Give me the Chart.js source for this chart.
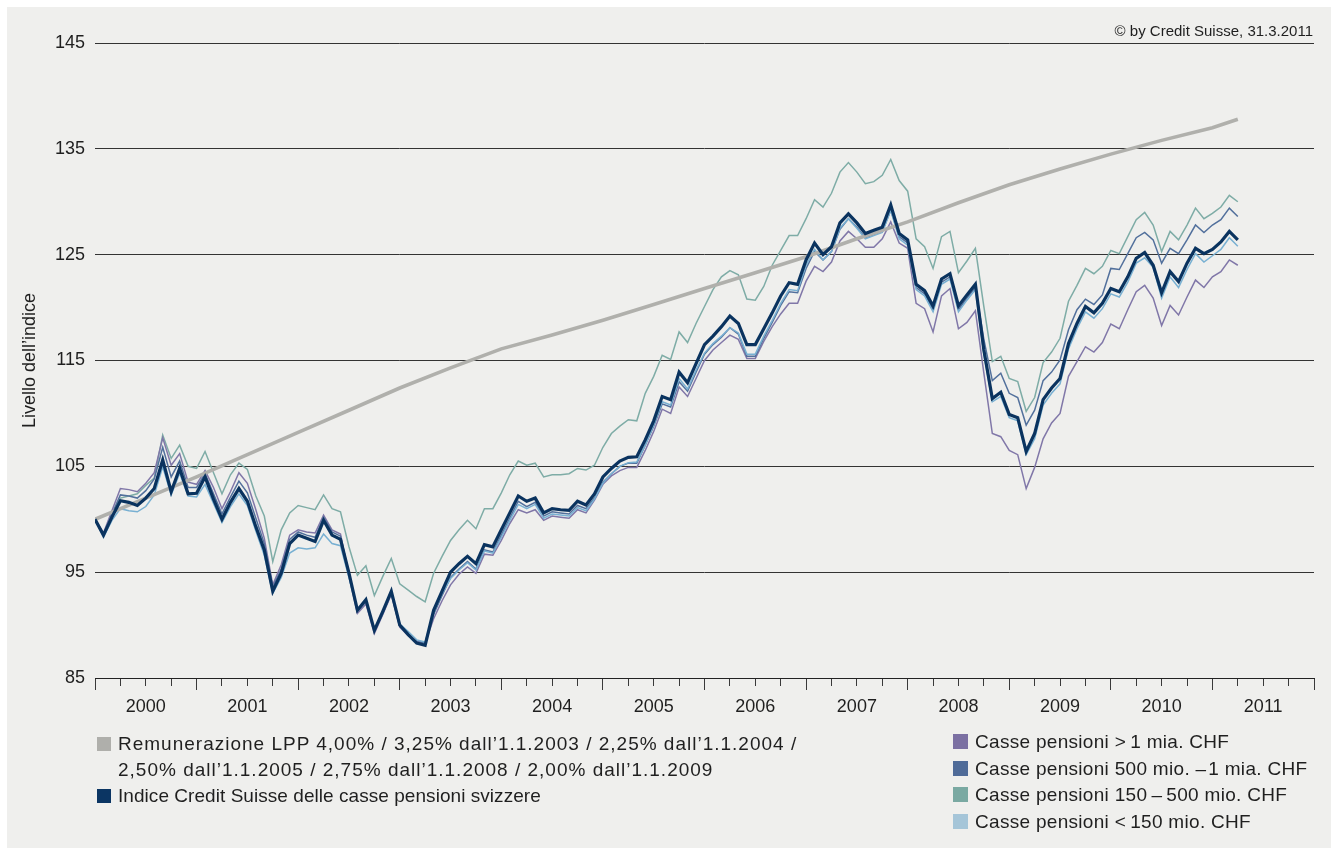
<!DOCTYPE html>
<html lang="it">
<head>
<meta charset="utf-8">
<title>Indice Credit Suisse delle casse pensioni svizzere</title>
<script src="https://cdn.jsdelivr.net/npm/chart.js@4.4.1/dist/chart.umd.min.js"></script>
<style>
  html, body { margin: 0; padding: 0; background: #ffffff; }
  body { width: 1331px; height: 848px; position: relative; overflow: hidden;
         font-family: "Liberation Sans", Arial, sans-serif; color: #1f1f1f; }
  #panel { position: absolute; left: 7px; top: 7px; right: 0; bottom: 0; background: #efefed; }
  #chart { position: absolute; left: 0; top: 0; }
  .note { position: absolute; right: 18px; top: 21px; font-size: 15px; line-height: 20px; }
  .legend { position: absolute; font-size: 19px; line-height: 26px; white-space: nowrap; letter-spacing: 0.3px; }
  .legend .row { position: relative; padding-left: 21px; }
  .legend .sw { position: absolute; left: 0; top: 6px; width: 14px; height: 14px; }
  #legend-left .row:nth-child(1), #legend-left .row:nth-child(2) { letter-spacing: 1px; }
  #legend-left .row:nth-child(3) { letter-spacing: 0.05px; }
  #legend-right .sw { width: 15px; height: 15px; top: 5px; }
  #legend-right .row { padding-left: 22px; }
</style>
</head>
<body>
<div id="panel"></div>
<canvas id="chart" width="1331" height="848"></canvas>
<div class="note">© by Credit Suisse, 31.3.2011</div>
<div class="legend" id="legend-left" style="left:97px; top:731px;"></div>
<div class="legend" id="legend-right" style="left:953px; top:729px; line-height:26.6px;"></div>
<script>
// monthly values, Dec 1999 (month 0) to Mar 2011 (month 135)
var indexCS = [
  100.0, 98.5, 100.2, 101.75, 101.6, 101.3, 102.0, 102.9, 105.6, 102.6, 104.8, 102.4,
  102.45, 104.0, 101.9, 100.0, 101.6, 102.9, 101.7, 99.3, 97.1, 93.2, 94.9, 97.7,
  98.5, 98.2, 97.9, 99.9, 98.5, 98.1, 94.9, 91.4, 92.4, 89.5, 91.3, 93.2,
  90.0, 89.1, 88.3, 88.1, 91.4, 93.2, 95.0, 95.8, 96.5, 95.8, 97.6, 97.4,
  99.0, 100.6, 102.2, 101.7, 102.0, 100.6, 101.0, 100.9, 100.85, 101.7, 101.35, 102.4,
  104.0, 104.8, 105.5, 105.85, 105.9, 107.5, 109.3, 111.6, 111.3, 113.9, 112.9, 114.7,
  116.5, 117.3, 118.2, 119.2, 118.5, 116.5, 116.5, 118.0, 119.5, 121.1, 122.35, 122.2,
  124.5, 126.1, 125.0, 125.75, 128.0, 128.85, 128.0, 127.0, 127.3, 127.6, 129.7, 127.0,
  126.4, 122.2, 121.6, 120.15, 122.7, 123.2, 120.15, 121.2, 122.2, 116.0, 111.4, 112.0,
  109.9, 109.6, 106.4, 108.1, 111.3, 112.4, 113.3, 116.6, 118.5, 120.1, 119.5, 120.4,
  121.8, 121.5, 122.9, 124.65, 125.2, 124.0, 121.4, 123.4, 122.45, 124.2, 125.6, 125.1,
  125.5, 126.2, 127.2, 126.4
];
var over1bn = [
  100.0, 98.7, 100.8, 102.9, 102.8, 102.6, 103.4, 104.4, 107.7, 105.1, 106.2, 103.5,
  103.3, 104.6, 103.0, 101.0, 102.6, 104.4, 103.4, 100.9, 98.2, 93.8, 95.7, 98.5,
  99.0, 98.8, 98.7, 100.4, 99.0, 98.6, 94.6, 91.1, 92.0, 89.2, 91.0, 92.9,
  89.8, 89.0, 88.5, 88.3, 90.6, 92.3, 93.8, 94.8, 95.5, 94.9, 96.7, 96.6,
  98.0, 99.6, 100.9, 100.6, 100.9, 99.9, 100.3, 100.2, 100.1, 100.9, 100.6, 101.8,
  103.3, 104.1, 104.6, 104.9, 104.9, 106.5, 108.3, 110.4, 110.0, 112.5, 111.6, 113.3,
  115.0, 116.0, 116.7, 117.4, 117.0, 115.2, 115.2, 116.8, 118.2, 119.4, 120.4, 120.4,
  122.5, 123.9, 123.4, 124.3, 126.3, 127.2, 126.5, 125.7, 125.7, 126.5, 128.1, 126.1,
  125.6, 120.4, 119.9, 117.7, 121.1, 121.8, 118.0, 118.6, 119.7, 113.8, 108.1, 107.8,
  106.5, 106.1, 102.9, 104.9, 107.6, 109.1, 110.0, 113.5, 114.9, 116.3, 115.8, 116.7,
  118.45, 118.0, 119.8, 121.5, 122.1, 120.9, 118.3, 120.2, 119.3, 121.0, 122.6, 121.9,
  122.9, 123.4, 124.5, 124.0
];
var from500mTo1bn = [
  100.0, 98.6, 100.5, 102.3, 102.2, 102.0, 102.7, 103.8, 106.8, 104.0, 105.5, 103.0,
  103.0, 104.3, 102.4, 100.5, 102.1, 103.6, 102.5, 100.1, 97.7, 93.6, 95.3, 98.1,
  98.8, 98.5, 98.3, 100.2, 98.8, 98.4, 94.9, 91.3, 92.2, 89.4, 91.1, 93.0,
  89.9, 89.1, 88.4, 88.3, 91.0, 92.8, 94.5, 95.3, 96.0, 95.3, 97.1, 96.9,
  98.5, 100.1, 101.7, 101.2, 101.6, 100.3, 100.7, 100.6, 100.5, 101.3, 101.0, 102.0,
  103.5, 104.3, 105.0, 105.3, 105.3, 107.0, 108.8, 110.9, 110.6, 113.0, 112.1, 113.9,
  115.6, 116.5, 117.2, 118.1, 117.5, 115.4, 115.4, 117.1, 118.6, 120.2, 121.5, 121.4,
  123.7, 125.3, 124.5, 125.3, 127.4, 128.4, 127.6, 126.6, 126.9, 127.2, 129.2, 126.7,
  126.1, 121.9, 121.3, 119.8, 122.4, 122.9, 119.8, 120.9, 121.9, 117.0, 113.1, 113.8,
  111.9, 111.5, 108.9, 110.3, 113.1, 113.9, 115.05, 117.9, 119.8, 120.8, 120.3, 121.2,
  123.7, 123.6, 125.1, 126.6, 127.1, 126.4, 124.2, 125.6, 125.1, 126.4, 127.8, 127.1,
  127.8, 128.3, 129.4, 128.6
];
var from150mTo500m = [
  100.0, 98.6, 100.5, 102.0, 102.2, 102.4, 103.2, 103.9, 107.95, 105.75, 107.0, 105.0,
  104.8, 106.4, 104.4, 102.4, 104.2, 105.3, 104.7, 102.2, 100.3, 96.0, 99.0, 100.6,
  101.3, 101.1, 100.9, 102.3, 101.0, 100.7, 97.4, 94.7, 95.6, 92.8, 94.6, 96.3,
  93.9, 93.3, 92.7, 92.2, 94.9, 96.5, 98.0, 99.0, 99.9, 99.1, 101.0, 101.0,
  102.5, 104.2, 105.5, 105.1, 105.3, 104.0, 104.2, 104.2, 104.3, 104.8, 104.65, 105.1,
  106.8, 108.1, 108.8, 109.4, 109.3, 111.9, 113.5, 115.5, 115.1, 117.7, 116.7, 118.5,
  120.1, 121.7, 122.9, 123.5, 123.1, 120.8, 120.7, 122.0, 124.0, 125.4, 126.8, 126.8,
  128.4, 130.2, 129.5, 130.8, 132.8, 133.7, 132.8, 131.7, 131.9, 132.5, 134.0, 132.0,
  131.0, 126.5, 125.75, 123.7, 126.7, 127.2, 123.3, 124.4, 125.6, 120.1, 114.9, 115.4,
  113.3, 113.0, 110.2, 111.5, 114.8, 115.8, 117.1, 120.6, 122.1, 123.7, 123.2, 123.9,
  125.4, 125.1, 126.7, 128.3, 129.0, 127.8, 125.3, 127.2, 126.4, 127.8, 129.4, 128.4,
  128.9, 129.5, 130.6, 130.0
];
var under150m = [
  100.0, 98.3, 99.9, 101.0, 100.8, 100.7, 101.2, 102.3, 104.95, 102.3, 104.35, 102.2,
  102.1, 103.3, 101.5, 99.7, 101.2, 102.4, 101.3, 98.9, 96.6, 93.0, 94.5, 96.8,
  97.3, 97.2, 97.3, 98.6, 97.7, 97.5, 94.5, 91.4, 92.3, 89.5, 91.3, 93.1,
  90.1, 89.4, 88.6, 88.4, 91.2, 93.0, 94.4, 95.2, 95.9, 95.2, 97.0, 96.8,
  98.3, 99.9, 101.4, 101.0, 101.4, 100.1, 100.5, 100.4, 100.3, 101.1, 100.8, 101.9,
  103.4, 104.3, 105.0, 105.35, 105.4, 107.0, 108.9, 111.1, 110.8, 113.3, 112.3, 114.1,
  115.7, 116.6, 117.3, 118.1, 117.6, 115.6, 115.6, 117.3, 118.8, 120.4, 121.7, 121.6,
  124.0, 125.5, 124.5, 125.3, 127.5, 128.4, 127.5, 126.5, 126.8, 127.1, 129.2, 126.5,
  125.9, 121.7, 121.1, 119.6, 122.2, 122.7, 119.6, 120.7, 121.7, 115.6, 111.1, 111.6,
  109.6, 109.3, 106.1, 107.6, 110.8, 111.9, 112.8, 116.1, 118.0, 119.6, 119.0, 119.9,
  121.3, 121.0, 122.4, 124.2, 124.7, 123.8, 120.9, 122.9, 121.9, 123.6, 125.1, 124.3,
  124.9, 125.5, 126.6, 125.8
];
// BVG/LPP minimum interest line, read every six months
var lppMonths = [0, 6, 12, 18, 24, 30, 36, 42, 48, 54, 60, 66, 72, 78, 84, 90, 96, 102, 108, 114, 120, 126, 132, 135];
var lppValues = [100.0, 102.0, 104.0, 106.1, 108.2, 110.3, 112.4, 114.3, 116.1, 117.4, 118.8, 120.3,
  121.8, 123.3, 124.8, 126.5, 128.1, 129.9, 131.6, 133.1, 134.5, 135.8, 137.0, 137.8];

var yearLabels = ["2000", "2001", "2002", "2003", "2004", "2005", "2006", "2007", "2008", "2009", "2010", "2011"];
var yTicks = [85, 95, 105, 115, 125, 135, 145];

var legendLeft = [
  { color: "#afafab", lines: ["Remunerazione LPP 4,00% / 3,25% dall\u20191.1.2003 / 2,25% dall\u20191.1.2004 /",
                              "2,50% dall\u20191.1.2005 / 2,75% dall\u20191.1.2008 / 2,00% dall\u20191.1.2009"] },
  { color: "#0b3563", lines: ["Indice Credit Suisse delle casse pensioni svizzere"] }
];
var legendRight = [
  { color: "#7b70a2", lines: ["Casse pensioni >\u20091 mia. CHF"] },
  { color: "#4f6b98", lines: ["Casse pensioni 500 mio. \u2013\u200a1 mia. CHF"] },
  { color: "#7aa9a2", lines: ["Casse pensioni 150\u2009\u2013\u2009500 mio. CHF"] },
  { color: "#a5c5d8", lines: ["Casse pensioni <\u2009150 mio. CHF"] }
];

(function () {
  "use strict";

  function toPoints(values) {
    return values.map(function (v, i) { return { x: i, y: v }; });
  }

  function lppPoints() {
    return lppMonths.map(function (m, i) { return { x: m, y: lppValues[i] }; });
  }

  function fillLegend(el, items) {
    items.forEach(function (item) {
      item.lines.forEach(function (line, k) {
        var row = document.createElement("div");
        row.className = "row";
        if (k === 0) {
          var sw = document.createElement("span");
          sw.className = "sw";
          sw.style.background = item.color;
          row.appendChild(sw);
        }
        row.appendChild(document.createTextNode(line));
        el.appendChild(row);
      });
    });
  }

  fillLegend(document.getElementById("legend-left"), legendLeft);
  fillLegend(document.getElementById("legend-right"), legendRight);

  function line(label, data, color, width) {
    return {
      label: label,
      data: data,
      borderColor: color,
      borderWidth: width,
      pointRadius: 0,
      tension: 0,
      fill: false,
      borderJoinStyle: "miter"
    };
  }

  // first dataset is painted last, so the index sits on top
  var datasets = [
    line("Indice Credit Suisse", toPoints(indexCS), "#0a335f", 3.2),
    line("Remunerazione LPP", lppPoints(), "#b0b0ac", 3.6),
    line("< 150 mio.", toPoints(under150m), "#78b0d2", 1.5),
    line("500 mio. - 1 mia.", toPoints(from500mTo1bn), "#52709c", 1.5),
    line("> 1 mia.", toPoints(over1bn), "#8077a8", 1.5),
    line("150 - 500 mio.", toPoints(from150mTo500m), "#7eaca6", 1.5)
  ];

  Chart.defaults.font.family = "'Liberation Sans', Arial, sans-serif";
  Chart.defaults.color = "#1f1f1f";

  new Chart(document.getElementById("chart"), {
    type: "line",
    data: { datasets: datasets },
    options: {
      responsive: false,
      animation: false,
      events: [],
      layout: { padding: { top: 43, right: 17, bottom: 0, left: 0 } },
      plugins: { legend: { display: false }, tooltip: { enabled: false } },
      scales: {
        x: {
          type: "linear",
          min: 0,
          max: 144,
          afterFit: function (scale) { scale.height = 170; },
          afterBuildTicks: function (scale) {
            var ticks = [];
            for (var m = 0; m <= 144; m += 3) ticks.push({ value: m });
            scale.ticks = ticks;
          },
          ticks: {
            autoSkip: false,
            maxRotation: 0,
            padding: 6,
            font: { size: 18 },
            color: "#1f1f1f",
            callback: function (value) {
              return value % 12 === 6 ? yearLabels[(value - 6) / 12] : "";
            }
          },
          grid: {
            drawOnChartArea: false,
            tickLength: 12,
            tickColor: "#3a3a3a",
            tickWidth: 1,
            tickBorderDash: function (ctx) {
              return ctx.tick && ctx.tick.value % 12 === 0 ? [] : [7, 30];
            }
          },
          border: { color: "#222222", width: 1 }
        },
        y: {
          min: 85,
          max: 145,
          afterFit: function (scale) { scale.width = 95; },
          afterBuildTicks: function (scale) {
            scale.ticks = yTicks.map(function (v) { return { value: v }; });
          },
          ticks: { padding: 10, font: { size: 18 }, color: "#1f1f1f" },
          grid: { color: "#333333", lineWidth: 1, drawTicks: false },
          border: { display: false },
          title: {
            display: true,
            text: "Livello dell\u2019indice",
            font: { size: 18 },
            color: "#1f1f1f",
            padding: { top: 19, bottom: 0 }
          }
        }
      }
    }
  });
})();
</script>
</body>
</html>
